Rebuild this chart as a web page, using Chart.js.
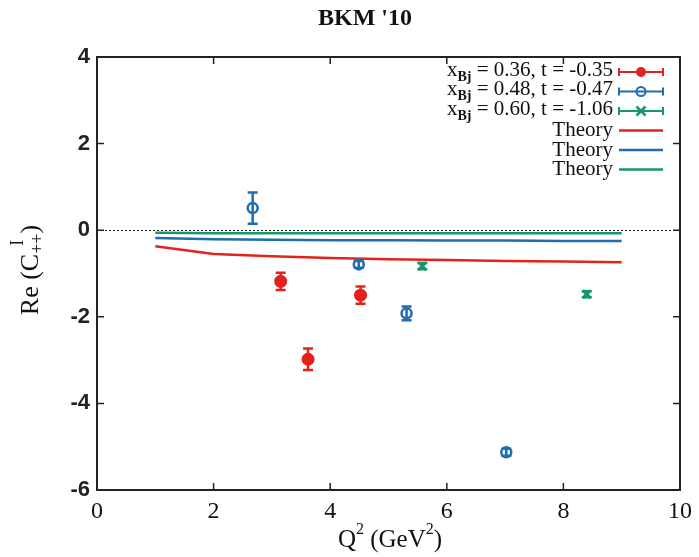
<!DOCTYPE html>
<html>
<head>
<meta charset="utf-8">
<title>BKM '10</title>
<script src="https://cdn.jsdelivr.net/npm/chart.js@4.4.1/dist/chart.umd.min.js"></script>
<style>
  html, body { margin: 0; padding: 0; background: #fff; }
  #wrap { width: 699px; height: 557px; }
</style>
</head>
<body>
<div id="wrap"><canvas id="chart"></canvas></div>
<script>
// measured points: Q^2, Re(C++^I), error
const redQ2 = [3.15, 3.62, 4.52];
const redRe = [-1.18, -2.98, -1.50];
const redErr = [0.20, 0.25, 0.20];

const blueQ2 = [2.67, 4.49, 5.31, 7.02];
const blueRe = [0.51, -0.79, -1.92, -5.13];
const blueErr = [0.36, 0.08, 0.16, 0.08];

const greenQ2 = [5.58, 8.40];
const greenRe = [-0.83, -1.48];
const greenErr = [0.07, 0.07];

// theory curves
const theoryQ2 = [1, 2, 3, 4, 5, 6, 7, 8, 9];
const theoryRed = [-0.37, -0.55, -0.60, -0.64, -0.67, -0.69, -0.71, -0.72, -0.74];
const theoryBlue = [-0.18, -0.21, -0.22, -0.23, -0.23, -0.24, -0.24, -0.25, -0.25];
const theoryGreen = [-0.06, -0.07, -0.07, -0.07, -0.07, -0.07, -0.07, -0.07, -0.07];

const xTicks = [0, 2, 4, 6, 8, 10];
const yTicks = [-6, -4, -2, 0, 2, 4];

const legendData = [
  ['0.36', '-0.35'],
  ['0.48', '-0.47'],
  ['0.60', '-1.06']
];

const RED = '#e3221d';
const BLUE = '#1f6db2';
const GREEN = '#17976c';

const SERIF = '"Liberation Serif", "DejaVu Serif", serif';
const SANS = '"Liberation Sans", Arial, sans-serif';

function pts(xs, ys) {
  return xs.map((x, i) => ({ x: x, y: ys[i] }));
}

function drawMarker(ctx, style, color, x, y) {
  ctx.save();
  ctx.strokeStyle = color;
  ctx.fillStyle = color;
  ctx.lineWidth = 2;
  ctx.beginPath();
  if (style === 'filled') {
    ctx.arc(x, y, 5, 0, Math.PI * 2);
    ctx.fill();
  } else if (style === 'open') {
    ctx.arc(x, y, 4.5, 0, Math.PI * 2);
    ctx.stroke();
  } else {
    ctx.lineWidth = 2.5;
    ctx.moveTo(x - 4.5, y - 4.5); ctx.lineTo(x + 4.5, y + 4.5);
    ctx.moveTo(x + 4.5, y - 4.5); ctx.lineTo(x - 4.5, y + 4.5);
    ctx.stroke();
  }
  ctx.restore();
}

function drawRuns(ctx, runs, x, y, align) {
  let total = 0;
  runs.forEach(r => { ctx.font = r[1]; total += ctx.measureText(r[0]).width; });
  let cx = align === 'right' ? x - total : align === 'center' ? x - total / 2 : x;
  runs.forEach(r => {
    ctx.font = r[1];
    ctx.fillText(r[0], cx, y + (r[2] || 0));
    cx += ctx.measureText(r[0]).width;
  });
}

const errorBars = {
  id: 'errorBars',
  beforeDatasetsDraw(chart) {
    const ctx = chart.ctx;
    const xs = chart.scales.x, ys = chart.scales.y;
    const a = chart.chartArea;
    // dotted zero line
    ctx.save();
    ctx.strokeStyle = '#222';
    ctx.lineWidth = 1;
    ctx.setLineDash([2, 2]);
    ctx.beginPath();
    const y0 = Math.round(ys.getPixelForValue(0)) + 0.5;
    ctx.moveTo(a.left, y0);
    ctx.lineTo(a.right, y0);
    ctx.stroke();
    ctx.restore();

    chart.data.datasets.forEach(ds => {
      if (!ds.errors) return;
      ctx.save();
      ctx.strokeStyle = ds.borderColor;
      ctx.lineWidth = 2.5;
      ds.data.forEach((p, i) => {
        const px = xs.getPixelForValue(p.x);
        const top = ys.getPixelForValue(p.y + ds.errors[i]);
        const bot = ys.getPixelForValue(p.y - ds.errors[i]);
        ctx.beginPath();
        ctx.moveTo(px, top); ctx.lineTo(px, bot);
        ctx.moveTo(px - 5, top); ctx.lineTo(px + 5, top);
        ctx.moveTo(px - 5, bot); ctx.lineTo(px + 5, bot);
        ctx.stroke();
      });
      ctx.restore();
    });
  }
};

const frame = {
  id: 'frame',
  afterDraw(chart) {
    const ctx = chart.ctx;
    const a = chart.chartArea;
    const xs = chart.scales.x, ys = chart.scales.y;
    ctx.save();
    ctx.strokeStyle = '#222';
    ctx.lineWidth = 2;
    ctx.strokeRect(a.left, a.top, a.right - a.left, a.bottom - a.top);
    ctx.lineWidth = 1.5;
    ctx.beginPath();
    xTicks.slice(1, -1).forEach(v => {
      const px = xs.getPixelForValue(v);
      ctx.moveTo(px, a.bottom); ctx.lineTo(px, a.bottom - 7);
      ctx.moveTo(px, a.top); ctx.lineTo(px, a.top + 7);
    });
    yTicks.slice(1, -1).forEach(v => {
      const py = ys.getPixelForValue(v);
      ctx.moveTo(a.left, py); ctx.lineTo(a.left + 7, py);
      ctx.moveTo(a.right, py); ctx.lineTo(a.right - 7, py);
    });
    ctx.stroke();

    // title
    ctx.fillStyle = '#111';
    ctx.textBaseline = 'middle';
    ctx.textAlign = 'left';
    drawRuns(ctx, [["BKM '10", 'bold 24px ' + SERIF]], 365, 19, 'center');

    // x axis title
    drawRuns(ctx, [
      ['Q', '25px ' + SERIF],
      ['2', '16px ' + SERIF, -10],
      [' (GeV', '25px ' + SERIF],
      ['2', '16px ' + SERIF, -10],
      [')', '25px ' + SERIF]
    ], 390, 540, 'center');

    // y axis title, rotated
    ctx.save();
    ctx.translate(31, 270);
    ctx.rotate(-Math.PI / 2);
    ctx.font = '26px ' + SERIF;
    const w1 = ctx.measureText('Re (C').width;
    ctx.font = '18px ' + SERIF;
    const w2 = ctx.measureText('++').width;
    ctx.font = '26px ' + SERIF;
    const w3 = ctx.measureText(')').width;
    let cx = -(w1 + w2 + w3) / 2;
    ctx.font = '26px ' + SERIF;
    ctx.fillText('Re (C', cx, 0);
    cx += w1;
    ctx.font = '18px ' + SERIF;
    ctx.fillText('++', cx, 7);
    ctx.fillText('I', cx + w2 / 2 - 2, -13);
    cx += w2;
    ctx.font = '26px ' + SERIF;
    ctx.fillText(')', cx, 0);
    ctx.restore();

    // legend
    const right = 613, x1 = 619, x2 = 663, xm = 641;
    const colors = [RED, BLUE, GREEN];
    const styles = ['filled', 'open', 'cross'];
    const rowY = [72, 91.5, 111, 130.5, 150, 169.5];
    ctx.fillStyle = '#111';
    legendData.forEach((row, i) => {
      const y = rowY[i];
      drawRuns(ctx, [
        ['x', '21px ' + SERIF, -2],
        ['Bj', 'bold 14px ' + SERIF, 5],
        [' = ' + row[0] + ', t = ' + row[1], '21px ' + SERIF, -2]
      ], right, y, 'right');
      ctx.strokeStyle = colors[i];
      ctx.lineWidth = 2;
      ctx.beginPath();
      ctx.moveTo(x1, y); ctx.lineTo(x2, y);
      ctx.moveTo(x1, y - 4); ctx.lineTo(x1, y + 4);
      ctx.moveTo(x2, y - 4); ctx.lineTo(x2, y + 4);
      ctx.stroke();
      drawMarker(ctx, styles[i], colors[i], xm, y);
    });
    colors.forEach((c, i) => {
      const y = rowY[3 + i];
      ctx.fillStyle = '#111';
      drawRuns(ctx, [['Theory', '21px ' + SERIF]], right, y, 'right');
      ctx.strokeStyle = c;
      ctx.lineWidth = 2.5;
      ctx.beginPath();
      ctx.moveTo(x1, y); ctx.lineTo(x2, y);
      ctx.stroke();
    });
    ctx.restore();
  }
};

new Chart(document.getElementById('chart'), {
  type: 'scatter',
  data: {
    datasets: [
      { label: 'red', data: pts(redQ2, redRe), errors: redErr, borderColor: RED, backgroundColor: RED,
        pointStyle: 'circle', pointRadius: 5.5, borderWidth: 2, showLine: false },
      { label: 'blue', data: pts(blueQ2, blueRe), errors: blueErr, borderColor: BLUE, backgroundColor: 'rgba(0,0,0,0)',
        pointStyle: 'circle', pointRadius: 5, borderWidth: 2.5, showLine: false },
      { label: 'green', data: pts(greenQ2, greenRe), errors: greenErr, borderColor: GREEN, backgroundColor: GREEN,
        pointStyle: 'crossRot', pointRadius: 5.5, borderWidth: 3, showLine: false },
      { label: 'Theory', data: pts(theoryQ2, theoryRed), borderColor: RED, borderWidth: 2.5, pointRadius: 0, showLine: true },
      { label: 'Theory', data: pts(theoryQ2, theoryBlue), borderColor: BLUE, borderWidth: 2.5, pointRadius: 0, showLine: true },
      { label: 'Theory', data: pts(theoryQ2, theoryGreen), borderColor: GREEN, borderWidth: 2.5, pointRadius: 0, showLine: true }
    ]
  },
  options: {
    responsive: true,
    maintainAspectRatio: false,
    animation: false,
    layout: { padding: { top: 57, right: 14, left: 0, bottom: 0 } },
    plugins: {
      legend: { display: false },
      title: { display: false },
      tooltip: { enabled: false }
    },
    scales: {
      x: {
        type: 'linear', min: 0, max: 10,
        afterFit: s => { s.height = 67; },
        afterBuildTicks: s => { s.ticks = xTicks.map(v => ({ value: v })); },
        grid: { display: false, drawTicks: false },
        border: { display: false },
        ticks: { color: '#111', padding: 7, font: { family: SERIF, size: 24 }, maxRotation: 0 }
      },
      y: {
        min: -6, max: 4,
        afterFit: s => { s.width = 97; },
        afterBuildTicks: s => { s.ticks = yTicks.map(v => ({ value: v })); },
        grid: { display: false, drawTicks: false },
        border: { display: false },
        ticks: { color: '#222', padding: 7, font: { family: SANS, size: 22, weight: 'bold' } }
      }
    }
  },
  plugins: [errorBars, frame]
});
</script>
</body>
</html>
